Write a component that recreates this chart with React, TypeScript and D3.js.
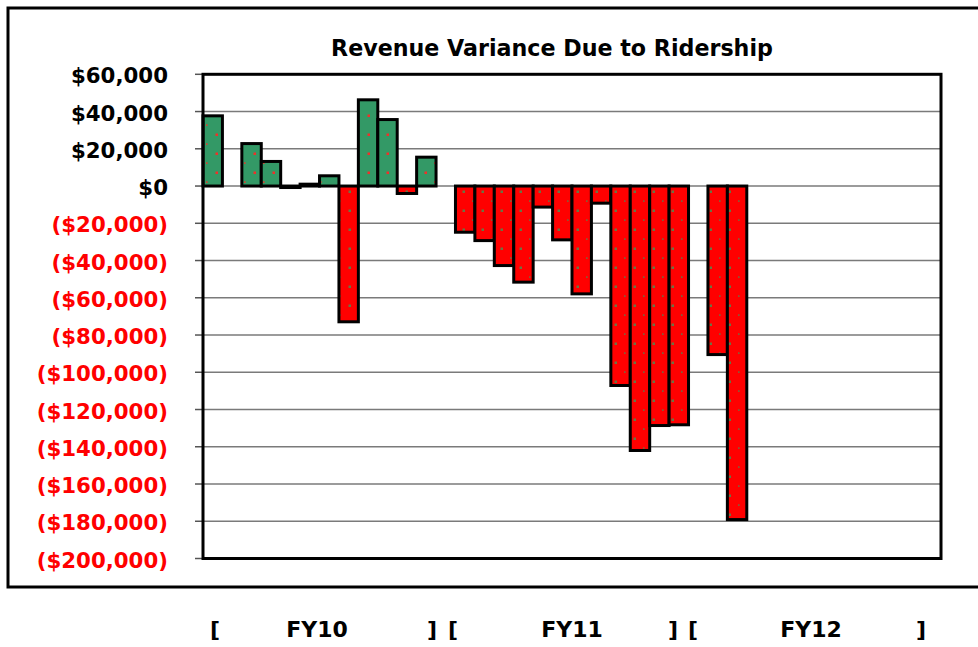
import React from "react";
import * as d3 from "d3";

// ---- data ----
const fiscalYears = ["FY10", "FY11", "FY12"];
const months = ["Jul", "Aug", "Sep", "Oct", "Nov", "Dec", "Jan", "Feb", "Mar", "Apr", "May", "Jun"];
const fy10Values: (number | null)[] = [37700, 0, 22800, 13200, -800, 1000, 5500, -72900, 46300, 35700, -4000, 15500];
const fy11Values: (number | null)[] = [-24800, -29300, -42700, -51600, -11300, -28900, -57900, -9200, -107100, -142000, -128600, -128200];
const fy12Values: (number | null)[] = [-90500, -179100, null, null, null, null, null, null, null, null, null, null];
const yTicks = [60000, 40000, 20000, 0, -20000, -40000, -60000, -80000, -100000, -120000, -140000, -160000, -180000, -200000];
const title = "Revenue Variance Due to Ridership";

// categories: 12 months per year with a blank slot between years
type Cat = { key: string; value: number | null };
const seriesByYear = [fy10Values, fy11Values, fy12Values];
const categories: Cat[] = [];
fiscalYears.forEach((fy, i) => {
  months.forEach((m, j) => categories.push({ key: `${fy}-${m}`, value: seriesByYear[i][j] }));
  if (i < fiscalYears.length - 1) categories.push({ key: `gap-${i}`, value: null });
});

const W = 978;
const H = 647;
const plot = { left: 203, right: 941, top: 74.3, bottom: 558.5 };
const FONT = "'DejaVu Sans', Verdana, sans-serif";

const fmt = (v: number) => {
  const s = "$" + d3.format(",")(Math.abs(v));
  return v < 0 ? `(${s})` : s;
};

export default function App() {
  const x = d3
    .scaleBand<string>()
    .domain(categories.map((c) => c.key))
    .range([plot.left, plot.right])
    .padding(0);
  const y = d3.scaleLinear().domain([-200000, 60000]).range([plot.bottom, plot.top]);

  // bottom bracket row (layout positions)
  const yearCenters = [317, 572, 811];
  const leftBr = [215, 453, 693];
  const rightBr = [432, 673, 921];

  return (
    <svg
      width={W}
      height={H}
      style={{ position: "absolute", left: 0, top: 0, background: "#fff" }}
      fontFamily={FONT}
    >
      <defs>
        <pattern id="greenDots" patternUnits="userSpaceOnUse" width={19} height={19}>
          <rect width={19} height={19} fill="#339966" />
          <rect x={6.5} y={0.5} width={2.5} height={2.5} fill="#f0302a" />
          <rect x={16} y={10.3} width={1.6} height={1.6} fill="#e33a2c" />
        </pattern>
        <pattern id="redDots" patternUnits="userSpaceOnUse" width={19} height={19}>
          <rect width={19} height={19} fill="#ff0000" />
          <rect x={6.5} y={0.5} width={2.5} height={2.5} fill="#6a7444" />
          <rect x={16} y={10.3} width={1.6} height={1.6} fill="#76683e" />
        </pattern>
      </defs>

      <rect x={0} y={0} width={W} height={H} fill="#fff" />
      {/* outer chart frame */}
      <rect x={8} y={8} width={990} height={579} fill="#fff" stroke="#000" strokeWidth={3} />

      {/* title */}
      <text x={552} y={56} textAnchor="middle" fontSize={22.2} fontWeight="bold" fill="#000">
        {title}
      </text>

      {/* gridlines */}
      {yTicks.map((t) => (
        <line
          key={`g${t}`}
          x1={plot.left}
          x2={plot.right}
          y1={y(t)}
          y2={y(t)}
          stroke="#7a7a7a"
          strokeWidth={1.5}
        />
      ))}

      {/* tick marks + labels */}
      {yTicks.map((t) => (
        <g key={`t${t}`}>
          <line x1={plot.left - 8} x2={plot.left} y1={y(t)} y2={y(t)} stroke="#555" strokeWidth={1.5} />
          <text
            x={168}
            y={y(t) + 9}
            textAnchor="end"
            fontSize={21.3}
            fontWeight="bold"
            fill={t < 0 ? "#ff0000" : "#000"}
          >
            {fmt(t)}
          </text>
        </g>
      ))}

      {/* bars */}
      {categories
        .filter((c) => c.value !== null)
        .map((c) => {
          const v = c.value as number;
          const y0 = y(Math.max(0, v));
          const y1 = y(Math.min(0, v));
          return (
            <rect
              key={c.key}
              x={x(c.key)}
              y={y0}
              width={x.bandwidth()}
              height={y1 - y0}
              fill={v >= 0 ? "url(#greenDots)" : "url(#redDots)"}
              stroke="#000"
              strokeWidth={3}
            />
          );
        })}

      {/* plot border */}
      <rect
        x={plot.left}
        y={plot.top}
        width={plot.right - plot.left}
        height={plot.bottom - plot.top}
        fill="none"
        stroke="#000"
        strokeWidth={3}
      />

      {/* fiscal year bracket row */}
      {fiscalYears.map((fy, i) => (
        <g key={fy} fontSize={22} fontWeight="bold" fill="#000">
          <text x={leftBr[i]} y={637} textAnchor="middle">[</text>
          <text x={yearCenters[i]} y={637} textAnchor="middle">{fy}</text>
          <text x={rightBr[i]} y={637} textAnchor="middle">]</text>
        </g>
      ))}
    </svg>
  );
}
